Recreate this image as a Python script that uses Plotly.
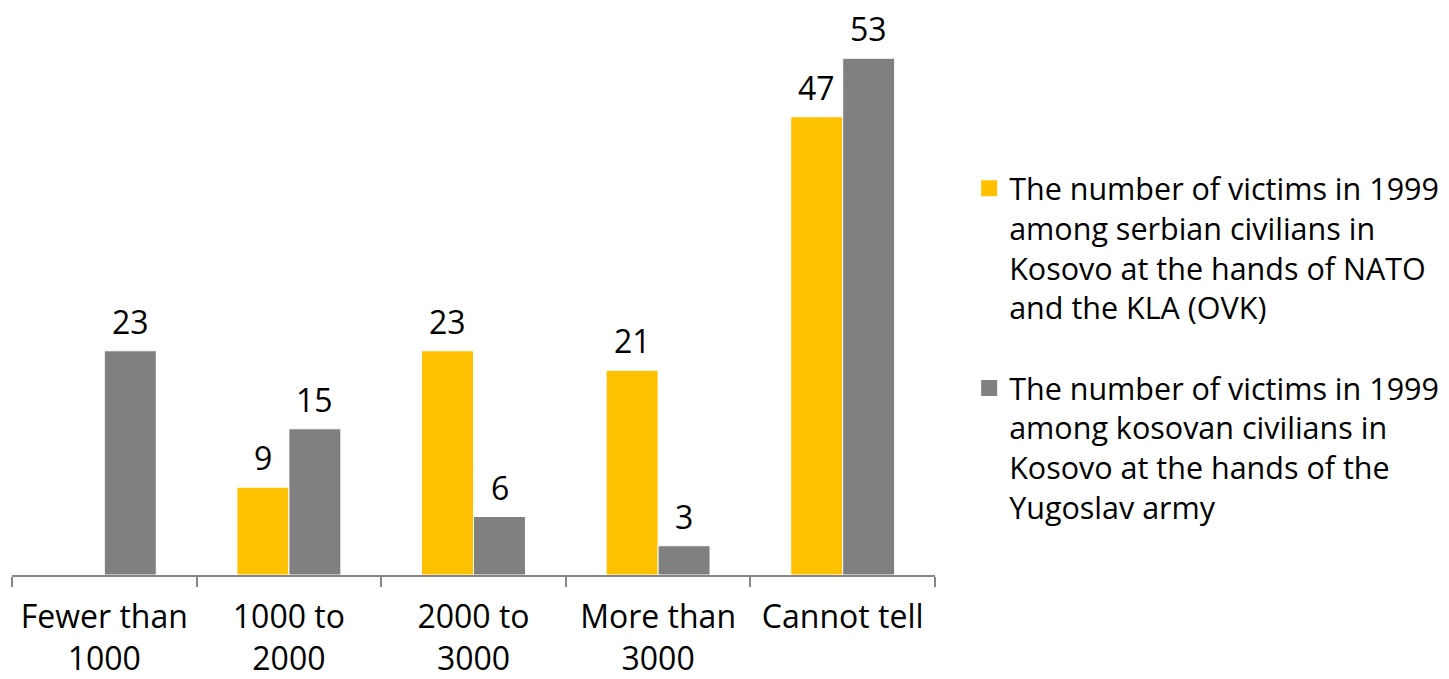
import plotly.graph_objects as go

categories = ["Fewer than<br>1000", "1000 to<br>2000", "2000 to<br>3000", "More than<br>3000", "Cannot tell"]
serbian_victims = [None, 9, 23, 21, 47]
kosovan_victims = [23, 15, 6, 3, 53]

name_serbian = "The number of victims in 1999<br>among serbian civilians in<br>Kosovo at the hands of NATO<br>and the KLA (OVK)"
name_kosovan = "The number of victims in 1999<br>among kosovan civilians in<br>Kosovo at the hands of the<br>Yugoslav army"

orange = "#FFC000"
grey = "#808080"

fig = go.Figure()

fig.add_trace(go.Bar(
    x=categories, y=serbian_victims, name=name_serbian,
    marker=dict(color=orange, line=dict(color="white", width=1)),
    showlegend=False,
))
fig.add_trace(go.Bar(
    x=categories, y=kosovan_victims, name=name_kosovan,
    marker=dict(color=grey, line=dict(color="white", width=1)),
    showlegend=False,
))

# legend-only entries so the swatches can be a bit bigger than bar swatches
for name, color, group in [(name_serbian, orange, "a"), (name_kosovan, grey, "b")]:
    fig.add_trace(go.Scatter(
        x=[None], y=[None], mode="markers", name=name, legendgroup=group,
        marker=dict(symbol="square", size=16, color=color),
    ))

# value labels above each bar (bars are 52px wide, grouped side by side)
annotations = []
for values, shift in [(serbian_victims, -26), (kosovan_victims, 26)]:
    for cat, v in zip(categories, values):
        if v is None:
            continue
        annotations.append(dict(
            x=cat, y=v, text=str(v), showarrow=False,
            xshift=shift, yshift=6, yanchor="bottom",
            font=dict(size=32, color="black"),
        ))

# page body adds an 8px offset, margins are shifted to compensate
fig.update_layout(
    width=1449, height=679,
    barmode="group", bargap=0.437, bargroupgap=0,
    margin=dict(l=4, r=522, t=21, b=112, autoexpand=False),
    paper_bgcolor="white", plot_bgcolor="white",
    font=dict(family="Open Sans", size=31, color="black"),
    annotations=annotations,
    legend=dict(
        x=1.037, y=(567 - 154) / 546, xanchor="left", yanchor="top",
        valign="top", tracegroupgap=38, maxheight=600,
        font=dict(size=30.5),
    ),
    xaxis=dict(
        showline=True, linecolor="#868686", linewidth=2,
        ticks="outside", tickson="boundaries", ticklen=10, tickcolor="#868686", tickwidth=2,
        tickfont=dict(size=32), showgrid=False, ticklabelstandoff=13, automargin=False,
    ),
    yaxis=dict(
        range=[0, 56], showticklabels=False, showgrid=False, zeroline=False, showline=False,
        automargin=False,
    ),
)

fig.write_html("out.html")
